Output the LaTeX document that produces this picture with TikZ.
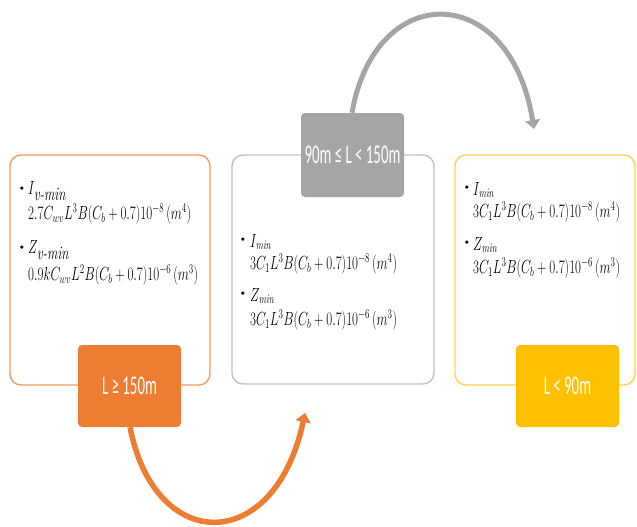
\RequirePackage{fix-cm}
\documentclass[tikz,border=0pt]{standalone}
\usepackage{fontspec}
\usepackage{graphicx}
\newfontfamily\lblfont{Carlito}
\usetikzlibrary{arrows.meta}
\definecolor{orng}{HTML}{ED7D31}
\definecolor{orngline}{HTML}{F19A5C}
\definecolor{gry}{HTML}{A5A5A5}
\definecolor{gryline}{HTML}{C0C0C0}
\definecolor{yel}{HTML}{FFC000}
\definecolor{yelline}{HTML}{FFD24D}
\newcommand{\fmx}[1]{\scalebox{0.68}[1]{\fontsize{19}{21}\selectfont #1}}
\newcommand{\lbx}[1]{\scalebox{0.55}[1]{\fontsize{27}{30}\lblfont #1}}
\tikzset{
  outer/.style={draw, line width=1.4pt, rounded corners=11pt},
  tag/.style={rounded corners=4pt, minimum width=103pt, text=white, inner sep=0pt},
  ftxt/.style={anchor=west, inner sep=0pt},
  bul/.style={inner sep=0pt, font=\fontsize{12}{13}\selectfont},
  bigarrow/.style={line width=5.5pt, -{Triangle[length=9pt,width=15pt]}}
}
\begin{document}
\begin{tikzpicture}[x=1pt,y=-1pt]
\useasboundingbox (0,0) rectangle (637,527);
% outer boxes
\node[outer, draw=orngline, minimum width=200pt, minimum height=230pt] (boxL) at (110,270) {};
\node[outer, draw=gryline, minimum width=202pt, minimum height=229pt] (boxM) at (333,269.5) {};
\node[outer, draw=yelline, minimum width=180pt, minimum height=230pt] (boxR) at (545,270) {};
% label boxes
\node[tag, fill=orng, minimum height=82pt] (tagL) at (129.5,386) {\lbx{L ≥ 150m}};
\node[tag, fill=gry, minimum height=84pt] (tagM) at (352.5,155) {\lbx{90m ≤ L < 150m}};
\node[tag, fill=yel, minimum height=82pt] (tagR) at (567.5,386) {\lbx{L < 90m}};
% left texts
\node[bul] (bl1) at (22,189) {\textbullet};
\node[ftxt] (tl1) at (28,191) {\fmx{$I_{\textit{v-min}}$}};
\node[ftxt] (fl1) at (28,214) {\fmx{$2.7C_{wv}L^3B(C_b+0.7)10^{-8}\,(m^4)$}};
\node[bul] (bl2) at (22,248) {\textbullet};
\node[ftxt] (tl2) at (28,250) {\fmx{$Z_{\textit{v-min}}$}};
\node[ftxt] (fl2) at (28,275) {\fmx{$0.9kC_{wv}L^2B(C_b+0.7)10^{-6}\,(m^3)$}};
% middle texts
\node[bul] (bm1) at (243,240) {\textbullet};
\node[ftxt] (tm1) at (250,242) {\fmx{$I_{\mathit{min}}$}};
\node[ftxt] (fm1) at (250,264) {\fmx{$3C_1L^3B(C_b+0.7)10^{-8}\,(m^4)$}};
\node[bul] (bm2) at (243,294) {\textbullet};
\node[ftxt] (tm2) at (250,296) {\fmx{$Z_{\mathit{min}}$}};
\node[ftxt] (fm2) at (250,320) {\fmx{$3C_1L^3B(C_b+0.7)10^{-6}\,(m^3)$}};
% right texts
\node[bul] (br1) at (467,188) {\textbullet};
\node[ftxt] (tr1) at (473,190) {\fmx{$I_{\mathit{min}}$}};
\node[ftxt] (fr1) at (473,212) {\fmx{$3C_1L^3B(C_b+0.7)10^{-8}\,(m^4)$}};
\node[bul] (br2) at (467,243) {\textbullet};
\node[ftxt] (tr2) at (473,245) {\fmx{$Z_{\mathit{min}}$}};
\node[ftxt] (fr2) at (473,268) {\fmx{$3C_1L^3B(C_b+0.7)10^{-6}\,(m^3)$}};
% arrows
\coordinate (oEnd) at (305,413);
\coordinate (gEnd) at (534,129);
\draw[bigarrow, draw=orng] ([xshift=0.5pt]tagL.south) .. controls (155,555) and (275,555) .. (oEnd);
\draw[bigarrow, draw=gry, line width=5pt] ([xshift=-0.5pt]tagM.north) .. controls (375,-20) and (510,-20) .. (gEnd);
\end{tikzpicture}
\end{document}
